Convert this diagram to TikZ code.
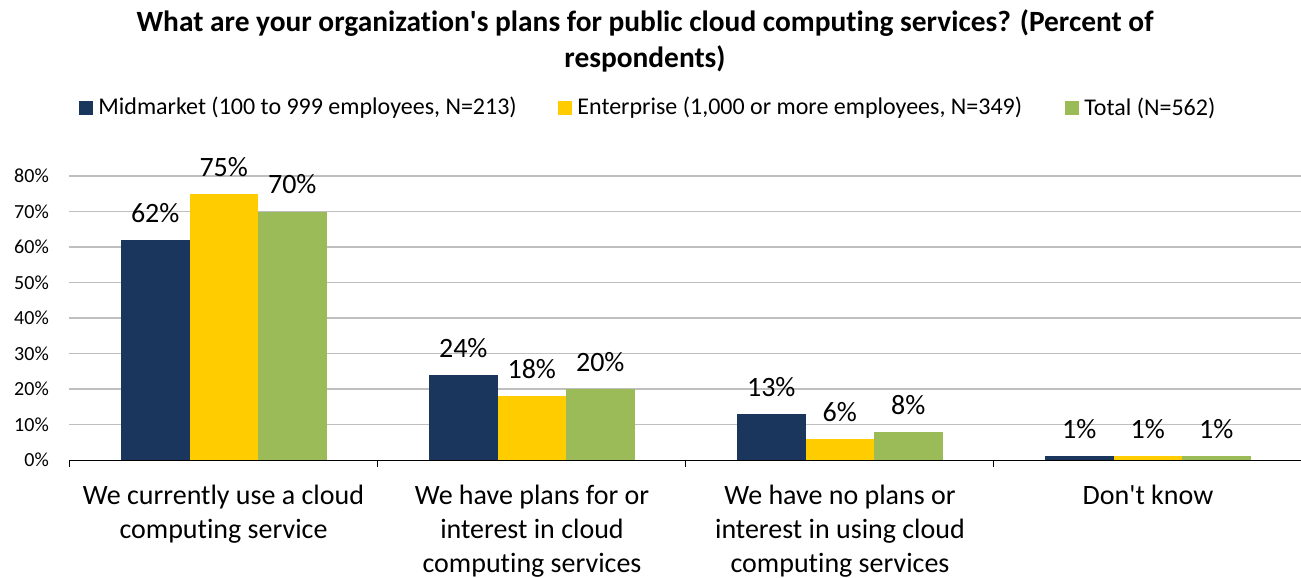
\documentclass[tikz,border=0pt]{standalone}
\usepackage{fontspec}
\setmainfont{Carlito}[Ligatures=NoCommon]
\usetikzlibrary{positioning}
\definecolor{midnavy}{HTML}{1B365D}
\definecolor{entyellow}{HTML}{FFCC00}
\definecolor{totgreen}{HTML}{9BBB59}
\definecolor{gridgray}{HTML}{BFBFBF}

\begin{document}
\begin{tikzpicture}[x=1pt,y=-1pt,
    gridline/.style={draw=gridgray,line width=1.2pt},
    ylab/.style={anchor=east,inner sep=0pt,font=\fontsize{20}{22}\selectfont},
    vallab/.style={inner sep=0pt,font=\fontsize{28}{30}\selectfont},
    catlab/.style={anchor=north,align=center,inner sep=0pt,font=\fontsize{28}{34}\selectfont},
    legsq/.style={minimum size=14pt,inner sep=0pt},
    legtxt/.style={anchor=west,inner sep=0pt,font=\fontsize{24}{26}\selectfont}]
  \useasboundingbox (0,0) rectangle (1301,578);

  % title
  \node (title) [anchor=north,align=center,inner sep=0pt,font=\bfseries\fontsize{29.4}{36}\selectfont]
    at (645,9.5) {What are your organization\textquotesingle s plans for public cloud computing services? (Percent of\\respondents)};

  % legend
  \node (sqmid) [legsq,fill=midnavy] at (86,108) {};
  \node (txmid) [legtxt,right=5pt of sqmid] {Midmarket (100 to 999 employees, N=213)};
  \node (sqent) [legsq,fill=entyellow] at (565,108) {};
  \node (txent) [legtxt,right=5pt of sqent] {Enterprise (1,000 or more employees, N=349)};
  \node (sqtot) [legsq,fill=totgreen] at (1072,108) {};
  \node (txtot) [legtxt,right=5pt of sqtot] {Total (N=562)};

  % grid and y labels
  \foreach \p in {0,10,...,80} {
    \pgfmathsetmacro{\yy}{460-3.55*\p}
    \ifnum\p>0 \draw[gridline] (69,\yy) -- (1301,\yy); \fi
    \node (y\p) [ylab] at (49,\yy) {\p\%};
  }

  % bars and value labels
  \foreach \g/\a/\b/\c in {0/62/75/70, 1/24/18/20, 2/13/6/8, 3/1/1/1} {
    \pgfmathsetmacro{\xs}{69+308*\g+52}
    \foreach \v [count=\k from 0] in {\a,\b,\c} {
      \pgfmathsetmacro{\xl}{\xs+68.5*\k}
      \pgfmathsetmacro{\yt}{460-3.55*\v}
      \ifcase\k \def\bc{midnavy}\or \def\bc{entyellow}\or \def\bc{totgreen}\fi
      \fill[\bc] (\xl,460) rectangle (\xl+68.5,\yt);
      \node (v\g\k) [vallab] at (\xl+34.25,\yt-27) {\v\%};
    }
  }

  % axis
  \draw[line width=1pt] (69,460) -- (1301,460);
  \foreach \t in {0,...,3} \draw[line width=1pt] (69+308*\t,460) -- (69+308*\t,467);

  % categories
  \node (cat0) [catlab] at (223.5,485) {We currently use a cloud\\computing service};
  \node (cat1) [catlab] at (532,485) {We have plans for or\\interest in cloud\\computing services};
  \node (cat2) [catlab] at (840,485) {We have no plans or\\interest in using cloud\\computing services};
  \node (cat3) [catlab] at (1148,485) {Don\textquotesingle t know};
\end{tikzpicture}
\end{document}
